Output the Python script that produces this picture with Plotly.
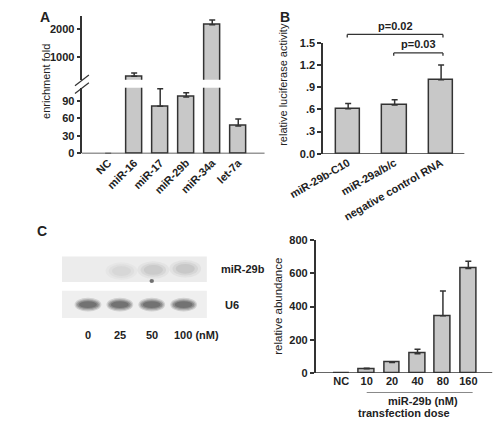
import plotly.graph_objects as go

# ---------------- data ----------------
a_categories = ["NC", "miR-16", "miR-17", "miR-29b", "miR-34a", "let-7a"]
a_values = [0, 310, 81, 97, 2140, 47]
a_errors = [0, 115, 30, 7, 170, 12]

b_categories = ["miR-29b-C10", "miR-29a/b/c", "negative control RNA"]
b_values = [0.61, 0.66, 1.0]
b_errors = [0.07, 0.07, 0.20]
b_pvalues = [("miR-29b-C10", "negative control RNA", "p=0.02"),
             ("miR-29a/b/c", "negative control RNA", "p=0.03")]

c_categories = ["NC", "10", "20", "40", "80", "160"]
c_values = [1, 26, 64, 117, 345, 630]
c_errors = [0, 3, 4, 27, 149, 43]

blot_lanes = ["0", "25", "50", "100"]
mir29b_band = [0.0, 0.30, 0.50, 0.55]
u6_band = [1.0, 1.0, 1.0, 1.0]

# ---------------- styles ----------------
W, H = 495, 426
FONT = "Liberation Sans, Arial, sans-serif"
TXT = "#222222"
LINE = "#333333"
BARFILL = "#c8c8c8"
FS = 11


def px(x):
    return x / W


def py(y):
    return 1 - y / H


def bar(cats, vals, errs, xa, ya, width):
    lw = [0 if v == 0 else 1.5 for v in vals]
    return go.Bar(
        x=cats, y=vals, xaxis=xa, yaxis=ya, width=width,
        marker=dict(color=BARFILL, line=dict(color=LINE, width=lw)),
        error_y=dict(type="data", symmetric=False, array=errs,
                     arrayminus=[0] * len(errs), color=LINE,
                     thickness=1.5, width=3),
        showlegend=False, hoverinfo="skip")


fig = go.Figure()
fig.add_trace(bar(a_categories, a_values, a_errors, "x", "y", 0.6))
fig.add_trace(bar(a_categories, a_values, a_errors, "x2", "y2", 0.6))
fig.add_trace(bar(b_categories, b_values, b_errors, "x3", "y3", 0.52))
fig.add_trace(bar(c_categories, c_values, c_errors, "x4", "y4", 0.62))

tickfont = dict(family=FONT, size=FS, color=TXT, weight="bold")
yax_common = dict(showline=True, linecolor=LINE, linewidth=1.5, ticks="outside",
                  ticklen=4, tickwidth=1.5, tickcolor=LINE, showgrid=False,
                  zeroline=False, tickfont=tickfont)
xax_common = dict(showline=False, ticks="", showgrid=False, zeroline=False,
                  tickfont=tickfont, type="category")

A_X = (51, 247)
B_X = (310, 462)
C_X = (302, 492)

fig.update_layout(
    width=W, height=H, margin=dict(l=0, r=0, t=0, b=0),
    paper_bgcolor="white", plot_bgcolor="white",
    font=dict(family=FONT, color=TXT), bargap=0,
    xaxis=dict(xax_common, domain=[px(A_X[0]), px(A_X[1])], range=[-0.99, 6.01],
               tickangle=-45, anchor="y"),
    yaxis=dict(yax_common, domain=[py(151.7), py(84)], range=[0, 113],
               tickvals=[0, 30, 60, 90], anchor="x"),
    xaxis2=dict(xax_common, domain=[px(A_X[0]), px(A_X[1])], range=[-0.99, 6.01],
                visible=False, anchor="y2"),
    yaxis2=dict(yax_common, domain=[py(76), py(10)], range=[183, 2459],
                tickvals=[1000, 2000], anchor="x2"),
    xaxis3=dict(xax_common, domain=[px(B_X[0]), px(B_X[1])], range=[-0.54, 2.5],
                tickangle=-30, anchor="y3"),
    yaxis3=dict(yax_common, domain=[py(152), py(38)], range=[0, 1.5],
                tickvals=[0, 0.3, 0.6, 0.9, 1.2, 1.5],
                ticktext=["0.0", ".3", ".6", ".9", "1.2", "1.5"], anchor="x3"),
    xaxis4=dict(xax_common, domain=[px(C_X[0]), px(C_X[1])], range=[-1.01, 5.94],
                tickangle=0, anchor="y4"),
    yaxis4=dict(yax_common, domain=[py(377.7), py(241)], range=[0, 800],
                tickvals=[0, 200, 400, 600, 800], anchor="x4"),
    # blot axes (hidden)
    xaxis5=dict(domain=[px(29), px(185)], range=[-0.816, 3.73], visible=False,
                anchor="y5"),
    yaxis5=dict(domain=[py(321), py(257)], range=[0, 64], visible=False,
                anchor="x5"),
)

shapes = []
annotations = []

# baselines (x axis lines at y=0, drawn over bar bottoms)
for (xr, yref) in ((A_X, "y"), (B_X, "y3"), (C_X, "y4")):
    shapes.append(dict(type="line", xref="paper", yref=yref,
                       x0=px(xr[0] - 0.75), x1=px(xr[1]), y0=0, y1=0,
                       line=dict(color=LINE, width=1.5)))

# broken-axis slashes
for y0 in (82, 90):
    shapes.append(dict(type="line", xref="paper", yref="paper",
                       x0=px(43), y0=py(y0), x1=px(58), y1=py(y0 - 11),
                       line=dict(color=LINE, width=1.2)))

# p-value brackets
b_idx = {c: i for i, c in enumerate(b_categories)}
for k, (c0, c1, label) in enumerate(b_pvalues):
    ytop = 29.3 if k == 0 else 48.3
    x0 = b_idx[c0] - 0.02
    x1 = b_idx[c1] + 0.04
    for seg in ((x0, ytop, x1, ytop), (x0, ytop, x0, ytop + 3),
                (x1, ytop, x1, ytop + 3)):
        shapes.append(dict(type="line", xref="x3", yref="paper",
                           x0=seg[0], y0=py(seg[1]), x1=seg[2], y1=py(seg[3]),
                           line=dict(color=LINE, width=1.3)))
    annotations.append(dict(text=label, xref="x3", yref="paper",
                            x=(x0 + x1) / 2, y=py(ytop - 1), xanchor="center",
                            yanchor="bottom", showarrow=False,
                            font=dict(size=FS, color=TXT, weight="bold")))

# C x-axis group line
shapes.append(dict(type="line", xref="x4", yref="paper", x0=1.0, x1=5.17,
                   y0=py(397.7), y1=py(397.7),
                   line=dict(color="#888888", width=1)))

# blot strips
shapes.append(dict(type="rect", xref="x5", yref="y5", x0=-0.816, x1=3.73,
                   y0=37, y1=63.3, fillcolor="#ececec", line=dict(width=0),
                   layer="below"))
shapes.append(dict(type="rect", xref="x5", yref="y5", x0=-0.816, x1=3.73,
                   y0=0, y1=28, fillcolor="#efefef", line=dict(width=0),
                   layer="below"))

# U6 bands (soft edges by layering)
for i, inten in enumerate(u6_band):
    for (hw, hh, op) in ((0.42, 7.0, 0.18), (0.38, 5.8, 0.25),
                         (0.34, 4.6, 0.35), (0.28, 3.4, 0.45)):
        shapes.append(dict(type="circle", xref="x5", yref="y5",
                           x0=i - hw, x1=i + hw, y0=13.7 - hh, y1=13.7 + hh,
                           fillcolor="rgb(80,80,80)", opacity=op * inten,
                           line=dict(width=0)))

# miR-29b faint bands
for i, inten in enumerate(mir29b_band):
    if inten <= 0:
        continue
    yc = 47 + i * 1.2
    for (hw, hh, op) in ((0.5, 9.0, 0.15), (0.4, 7.0, 0.2), (0.3, 5.0, 0.25)):
        shapes.append(dict(type="circle", xref="x5", yref="y5",
                           x0=i + 0.05 - hw, x1=i + 0.05 + hw,
                           y0=yc - hh, y1=yc + hh,
                           fillcolor="rgb(120,120,120)", opacity=op * inten,
                           line=dict(width=0)))
# small dark spot under lane "50"
shapes.append(dict(type="circle", xref="x5", yref="y5", x0=1.93, x1=2.07,
                   y0=36, y1=40, fillcolor="rgb(60,60,60)", opacity=0.7,
                   line=dict(width=0)))

# lane labels
for i, lab in enumerate(blot_lanes):
    if i == len(blot_lanes) - 1:
        annotations.append(dict(text=lab + " (nM)", xref="x5", yref="paper",
                                x=i - 0.38, y=py(339), xanchor="left",
                                yanchor="middle", showarrow=False,
                                font=dict(size=FS, color=TXT, weight="bold")))
    else:
        annotations.append(dict(text=lab, xref="x5", yref="paper", x=i,
                                y=py(339), xanchor="center", yanchor="middle",
                                showarrow=False,
                                font=dict(size=FS, color=TXT, weight="bold")))


def ann(text, x, y, size=FS, bold=False, angle=0, xanchor="center",
        yanchor="middle"):
    f = dict(size=size, color=TXT, family=FONT)
    if bold:
        f["weight"] = "bold"
    annotations.append(dict(text=text, xref="paper", yref="paper", x=px(x),
                            y=py(y), xanchor=xanchor, yanchor=yanchor,
                            textangle=angle, showarrow=False, font=f))


ann("A", 3, 1, size=14, bold=True, xanchor="left", yanchor="top")
ann("B", 262, 1, size=14, bold=True, xanchor="left", yanchor="top")
ann("C", 0, 221, size=14, bold=True, xanchor="left", yanchor="top")
ann("enrichment fold", 12, 78, angle=-90)
ann("relative luciferase activity", 267, 81, angle=-90)
ann("relative abundance", 262, 309, size=11.5, angle=-90)
ann("miR-29b", 198, 271, bold=True, xanchor="left")
ann("U6", 202, 308, bold=True, xanchor="left")
ann("miR-29b (nM)", 418, 406, bold=True)
ann("transfection dose", 397, 419, bold=True)

fig.update_layout(shapes=shapes, annotations=annotations)
fig.write_html(
    "out.html",
    config={"displayModeBar": False},
    post_script=("document.documentElement.style.margin='0';"
                 "document.body.style.margin='0';"
                 "document.body.style.padding='0';"
                 "document.body.style.overflow='hidden';"))
